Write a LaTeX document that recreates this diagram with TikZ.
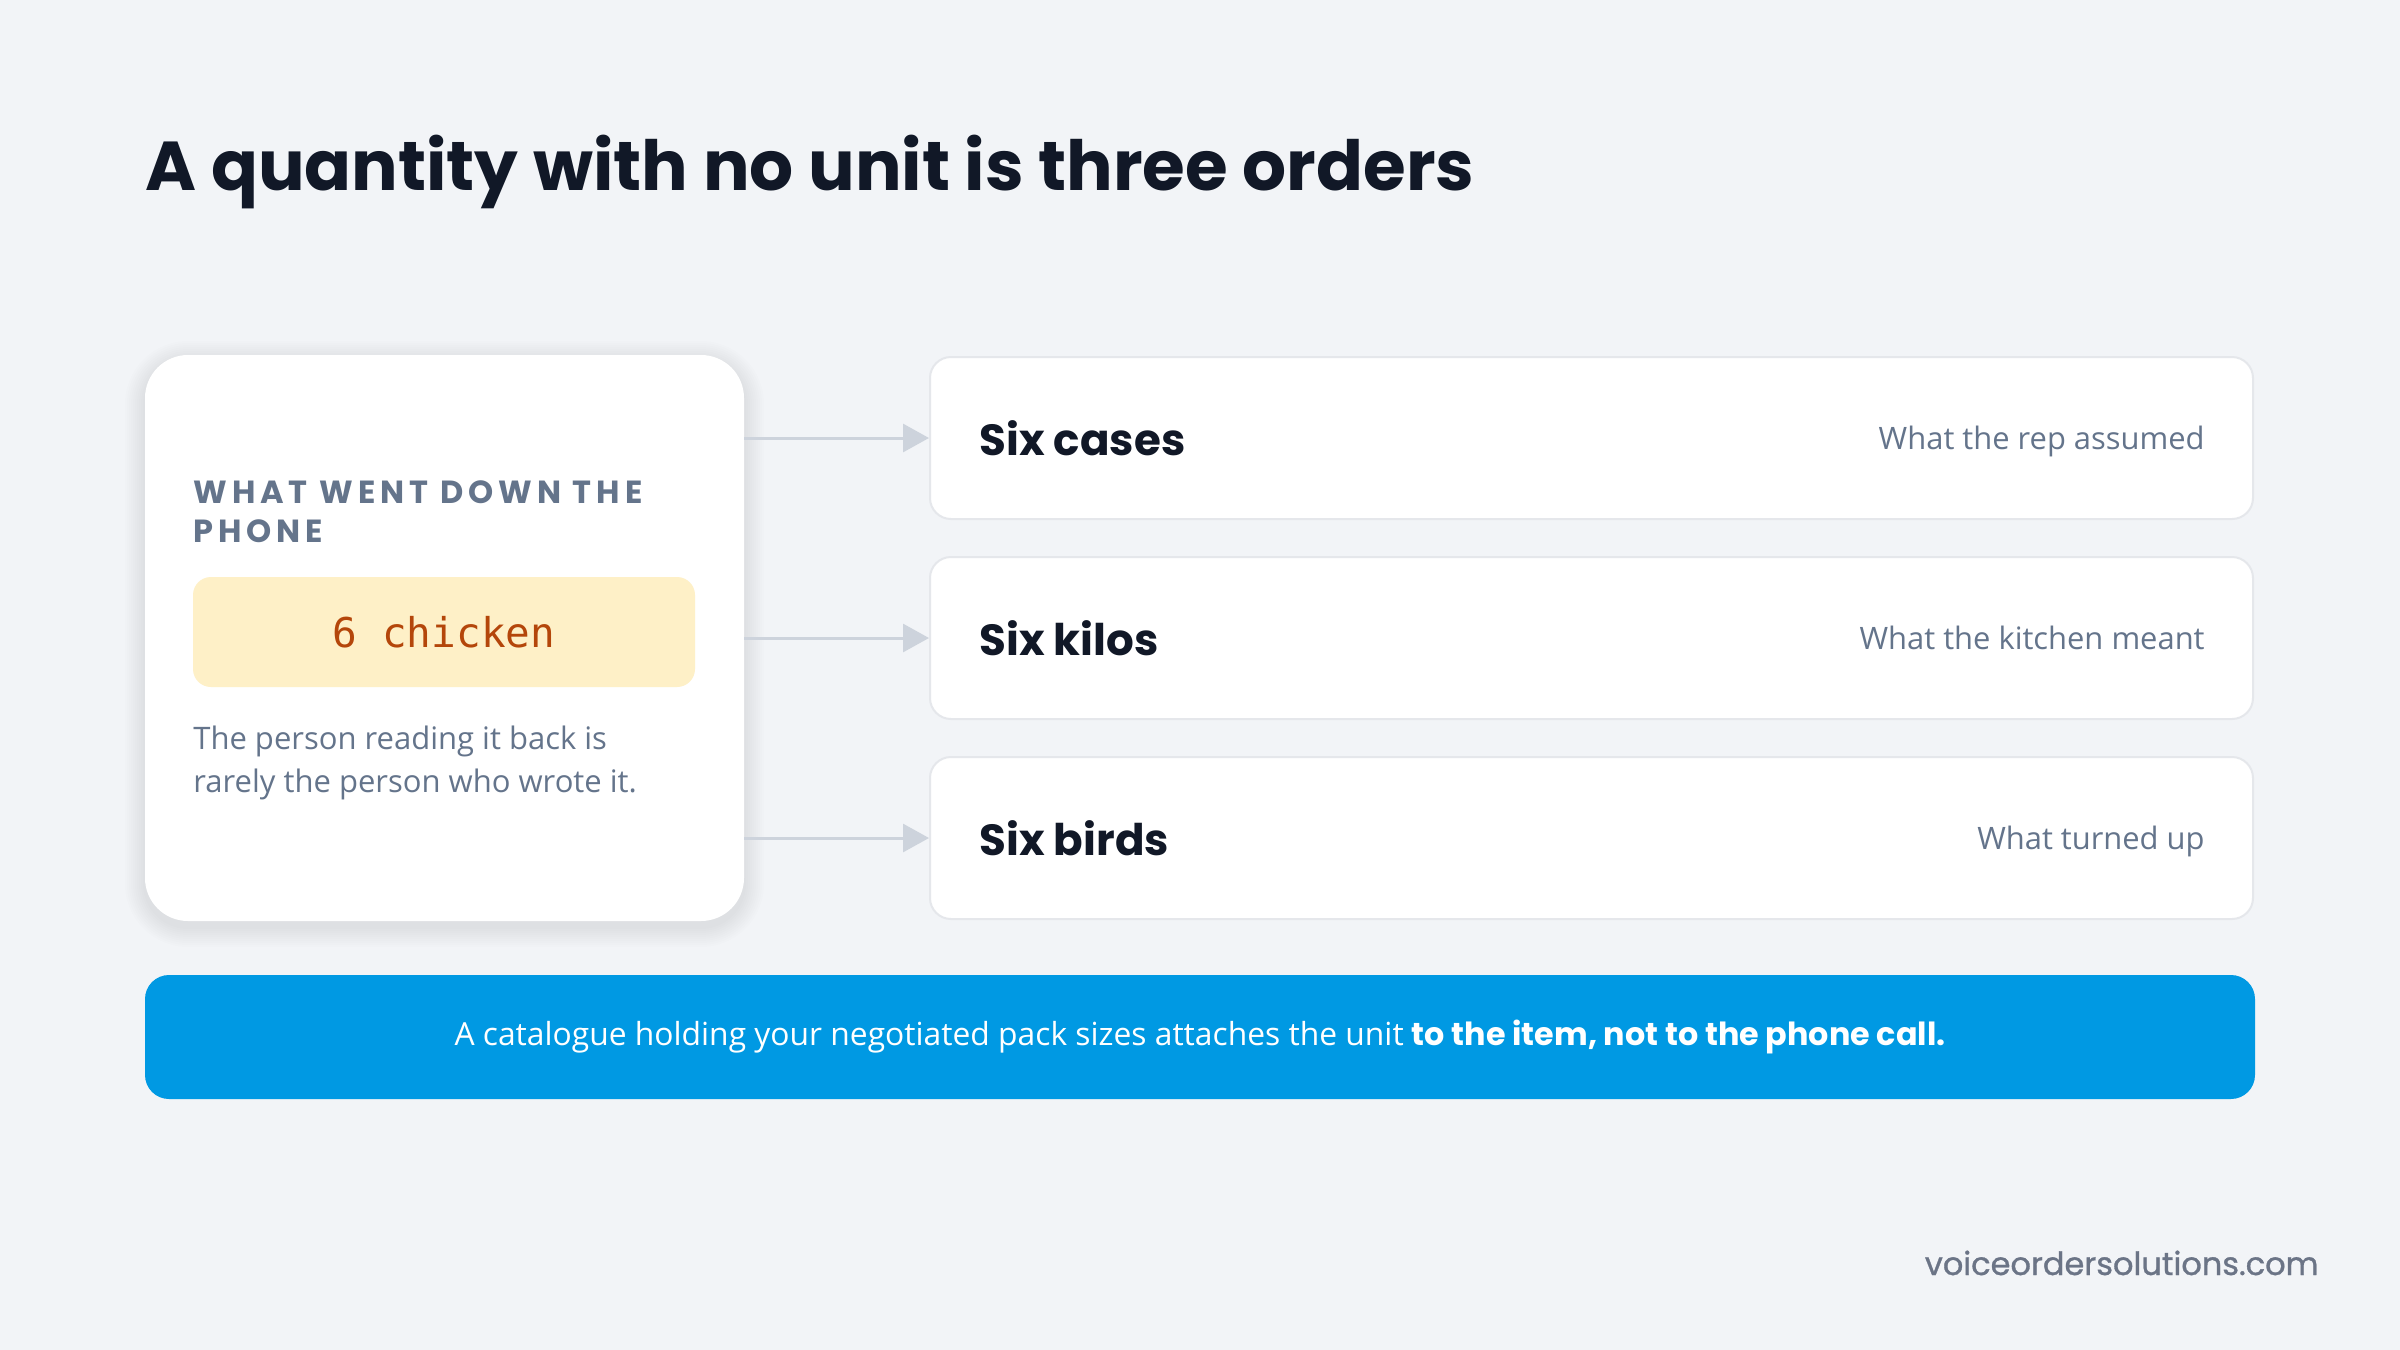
\documentclass[tikz,border=0pt]{standalone}
\usepackage{fontspec}
\setmainfont{Open Sans}
\setmonofont{DejaVu Sans Mono}
\newfontfamily\headfont{Poppins}
\newfontfamily\capsfont{Poppins}[LetterSpace=15.5]
\newfontfamily\sitefont{Poppins}[FakeBold=1]
\usepackage{xcolor}
\usepackage{tikz}
\usetikzlibrary{arrows.meta}
\usetikzlibrary{positioning}
\tikzset{>=latex}
\definecolor{bg}{HTML}{F2F4F7}
\definecolor{ink}{HTML}{111827}
\definecolor{slate}{HTML}{64748B}
\definecolor{rule}{HTML}{CDD3DC}
\definecolor{edge}{HTML}{E5E7EB}
\definecolor{cream}{HTML}{FEF0C7}
\definecolor{amber}{HTML}{B4460A}
\definecolor{sky}{HTML}{0099E3}
\definecolor{sitegray}{HTML}{6B7486}
\tikzstyle{card} = [rectangle, fill=white, rounded corners=21.5pt, minimum width=299.5pt, minimum height=283pt, inner sep=0]
\tikzstyle{unitbox} = [rectangle, fill=cream, rounded corners=9pt, minimum width=251pt, minimum height=55pt, text=amber, font=\ttfamily\fontsize{20.5}{24}\selectfont]
\tikzstyle{option} = [rectangle, fill=white, draw=edge, line width=1pt, rounded corners=10.5pt, minimum width=661.5pt, minimum height=81pt]
\tikzstyle{pick} = [inner sep=0, text=ink, font=\headfont\bfseries\fontsize{21.8}{26}\selectfont]
\tikzstyle{why} = [inner sep=0, anchor=base east, text=slate, font=\fontsize{15.45}{18}\selectfont]
\tikzstyle{link} = [-{Triangle[length=13pt, width=14pt]}, draw=rule, line width=1.5pt]

\begin{document}
\begin{tikzpicture}[x=0.5pt, y=-0.5pt]
\useasboundingbox (0,0) rectangle (2400,1350);
\fill [bg] (0,0) rectangle (2400,1350);
\node [anchor=base west, inner sep=0, text=ink, font=\headfont\bfseries\fontsize{34.6}{40}\selectfont] (title) at (145,190) {A quantity with no unit is three orders};
% soft shadow under the card
\foreach \i in {1,...,10}
  \fill [black, opacity=0.006, rounded corners=21.5pt+\i*1pt] (145-2*\i, 361-2*\i) rectangle (744+2*\i, 927+2*\i);
\node [card] (phone) at (444.5,638) {};
\node [anchor=north west, inner sep=0, align=left, text=slate, font=\capsfont\bfseries\fontsize{16}{19.5}\selectfont] (heard) at (193,480) {WHAT WENT DOWN THE\\PHONE};
\node [unitbox] (said) at (444,632) {6 chicken};
\node [anchor=north west, inner sep=0, align=left, text=slate, font=\fontsize{15.5}{21.5}\selectfont] (note) at (193,726) {The person reading it back is\\rarely the person who wrote it.};
% the three readings
\node [option] (cases) at (1591.5,438) {};
\node [option] (kilos) at (1591.5,638) {};
\node [option] (birds) at (1591.5,838) {};
\node [pick, right=25pt of cases.west] (casesname) {Six cases};
\node [pick, right=25pt of kilos.west] (kilosname) {Six kilos};
\node [pick, right=25pt of birds.west] (birdsname) {Six birds};
\node [why] (casesnote) at ([xshift=-24.5pt, yshift=-5.6pt]cases.east) {What the rep assumed};
\node [why] (kilosnote) at ([xshift=-24.5pt, yshift=-5.6pt]kilos.east) {What the kitchen meant};
\node [why] (birdsnote) at ([xshift=-24.5pt, yshift=-5.6pt]birds.east) {What turned up};
\draw [link] (phone.east |- cases) to (cases);
\draw [link] (phone.east |- kilos) to (kilos);
\draw [link] (phone.east |- birds) to (birds);
% bottom line
\node [rectangle, fill=sky, rounded corners=12pt, minimum width=1055pt, minimum height=62pt, text=white, font=\fontsize{15.9}{18}\selectfont] (tagline) at (1200,1037) {A catalogue holding your negotiated pack sizes attaches the unit {\headfont\bfseries to the item, not to the phone call.}};
\node [anchor=base east, inner sep=0, text=sitegray, font=\sitefont\fontsize{16}{20}\selectfont] (site) at (2319,1275) {voiceordersolutions.com};
\end{tikzpicture}
\end{document}
